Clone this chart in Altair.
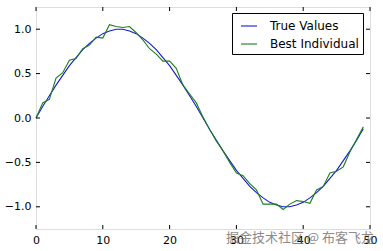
import altair as alt
import pandas as pd

x_vals = list(range(50))
true_values = [0.00, 0.13, 0.25, 0.37, 0.48, 0.59, 0.68, 0.77, 0.84, 0.90,
               0.95, 0.98, 1.00, 1.00, 0.98, 0.95, 0.90, 0.84, 0.77, 0.68,
               0.59, 0.48, 0.37, 0.25, 0.13, 0.00, -0.13, -0.25, -0.37, -0.48,
               -0.59, -0.68, -0.77, -0.84, -0.90, -0.95, -0.98, -1.00, -1.00, -0.98,
               -0.95, -0.90, -0.84, -0.77, -0.68, -0.59, -0.48, -0.37, -0.25, -0.12]
best_individual = [0.00, 0.17, 0.21, 0.45, 0.51, 0.65, 0.67, 0.78, 0.82, 0.91,
                   0.90, 1.05, 1.03, 1.02, 1.03, 0.96, 0.88, 0.78, 0.72, 0.64,
                   0.64, 0.56, 0.37, 0.27, 0.17, 0.01, -0.13, -0.26, -0.37, -0.50,
                   -0.62, -0.65, -0.74, -0.81, -0.97, -0.97, -0.97, -1.03, -0.97, -0.93,
                   -0.94, -0.96, -0.81, -0.77, -0.62, -0.60, -0.55, -0.38, -0.24, -0.10]
series_names = ["True Values", "Best Individual"]
series_colors = ["#1818d8", "#1a801a"]
x_ticks = [0, 10, 20, 30, 40, 50]
y_ticks = [-1.0, -0.5, 0.0, 0.5, 1.0]
watermark = "掘金技术社区 @ 布客飞龙"

W, H = 334, 222
df = pd.DataFrame(
    [{"x": x, "y": v, "series": series_names[0], "o": 0} for x, v in zip(x_vals, true_values)]
    + [{"x": x, "y": v, "series": series_names[1], "o": 1} for x, v in zip(x_vals, best_individual)]
)

xs = alt.Scale(domain=[0, 50], nice=False, zero=False)
ys = alt.Scale(domain=[-1.25, 1.25], nice=False, zero=False)
font = "DejaVu Sans"

lines = alt.Chart(df).mark_line(strokeWidth=1.1).encode(
    x=alt.X("x:Q", scale=xs, axis=alt.Axis(values=x_ticks, title=None, tickSize=0, domain=False,
                                           grid=False, labelPadding=5, labelFontSize=11,
                                           labelFont=font, labelColor="black", labelFlush=False)),
    y=alt.Y("y:Q", scale=ys, axis=alt.Axis(values=y_ticks, title=None, tickSize=0, domain=False,
                                           grid=False, labelPadding=5, labelFontSize=11,
                                           labelFont=font, labelColor="black", format=".1f")),
    color=alt.Color("series:N", scale=alt.Scale(domain=series_names, range=series_colors),
                    legend=alt.Legend(title=None, orient="none", legendX=196, legendY=6,
                                      symbolType="stroke", symbolSize=256, symbolStrokeWidth=1.1,
                                      symbolOffset=4,
                                      labelFontSize=12, labelFont=font, labelColor="black",
                                      strokeColor="black", fillColor="white", padding=4,
                                      rowPadding=3, labelOffset=12, cornerRadius=0)),
    order="o:Q",
)

xt = pd.DataFrame({"x": x_ticks})
yt = pd.DataFrame({"y": y_ticks})
tb = alt.Chart(xt).mark_rule(color="black", strokeWidth=1).encode(x=alt.X("x:Q", scale=xs), y=alt.value(H), y2=alt.value(H - 4))
tt = alt.Chart(xt).mark_rule(color="black", strokeWidth=1).encode(x=alt.X("x:Q", scale=xs), y=alt.value(0), y2=alt.value(4))
tl = alt.Chart(yt).mark_rule(color="black", strokeWidth=1).encode(y=alt.Y("y:Q", scale=ys), x=alt.value(0), x2=alt.value(4))
tr = alt.Chart(yt).mark_rule(color="black", strokeWidth=1).encode(y=alt.Y("y:Q", scale=ys), x=alt.value(W), x2=alt.value(W - 4))

wm = alt.Chart(pd.DataFrame({"t": [watermark]})).mark_text(
    fontSize=13, font="Noto Sans CJK SC", color="#777777", opacity=0.85, align="center", baseline="middle"
).encode(text="t:N", x=alt.value(264), y=alt.value(231))

chart = alt.layer(lines, tb, tt, tl, tr, wm).properties(
    width=W, height=H, autosize="none",
    padding={"left": 36, "top": 7, "right": 13, "bottom": 22},
).configure_view(stroke="black", strokeWidth=1.2).configure(background="white")

chart.save("out.html", embed_options={"renderer": "svg", "actions": False})
